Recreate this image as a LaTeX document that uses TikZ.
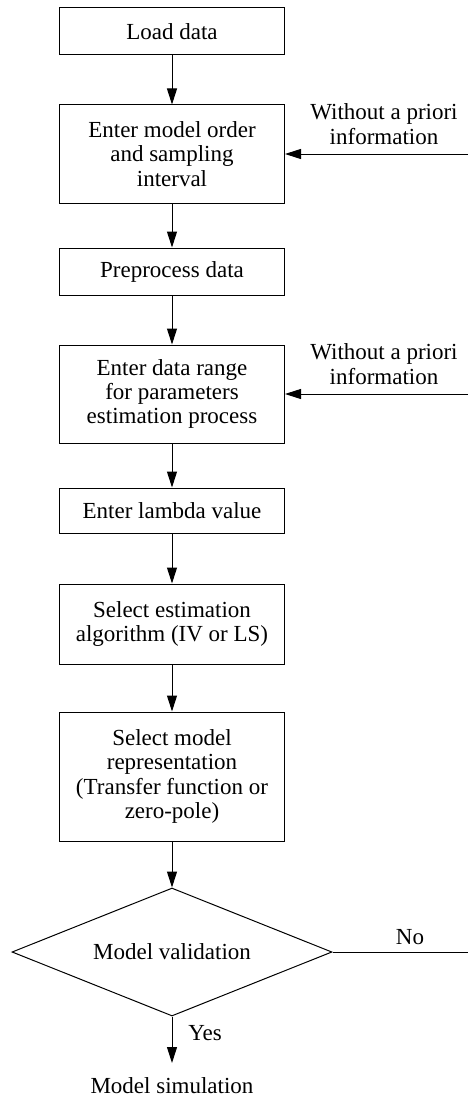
\documentclass[tikz,border=0pt]{standalone}
\usepackage{fontspec}
\setmainfont{Liberation Serif}
\usetikzlibrary{shapes.geometric,arrows.meta}

\tikzset{
  proc/.style={draw, rectangle, minimum width=112.5pt, align=center, inner sep=2pt},
  decide/.style={draw, diamond, minimum width=160pt, minimum height=64pt, aspect=2.5, inner sep=0pt},
  label/.style={align=center, inner sep=0pt}
}

\begin{document}
\begin{tikzpicture}[x=0.5pt,y=-0.5pt,>={Triangle[length=8pt,width=5pt]},
  line width=0.5pt, font=\fontsize{11.5}{12.2}\selectfont]
\useasboundingbox (0,0) rectangle (468,1097);
% main chain
\node[proc, minimum height=23.5pt] (load) at (172,31.5) {Load data};
\node[proc, minimum height=49pt] (order) at (172,154) {Enter model order\\and sampling\\interval};
\node[proc, minimum height=23.5pt] (prep) at (172,271.5) {Preprocess data};
\node[proc, minimum height=49pt] (range) at (172,394) {Enter data range\\for parameters\\estimation process};
\node[proc, minimum height=22.5pt] (lambda) at (172,510.5) {Enter lambda value};
\node[proc, minimum height=40pt] (algo) at (172,624) {Select estimation\\algorithm (IV or LS)};
\node[proc, minimum height=64.5pt] (repr) at (172,776.5) {Select model\\representation\\(Transfer function or\\zero-pole)};
\node[decide] (valid) at (172,952) {Model validation};
\node[label] (sim) at (172,1086) {Model simulation};
\draw[->] (load) -- (order);
\draw[->] (order) -- (prep);
\draw[->] (prep) -- (range);
\draw[->] (range) -- (lambda);
\draw[->] (lambda) -- (algo);
\draw[->] (algo) -- (repr);
\draw[->] (repr) -- (valid);
\draw[->] (valid.south) -- (172,1063) coordinate (simtop);
\node[label] at (205,1033) {Yes};
% side inputs
\coordinate (in1) at (468,154);
\coordinate (in2) at (468,394);
\coordinate (noend) at (468,952);
\draw[->] (in1) -- (order.east);
\draw[->] (in2) -- (range.east);
\node[label] at (384,124) {Without a priori\\information};
\node[label] at (384,364) {Without a priori\\information};
\draw (valid.east) -- (noend);
\node[label] at (410,937) {No};
\end{tikzpicture}
\end{document}
